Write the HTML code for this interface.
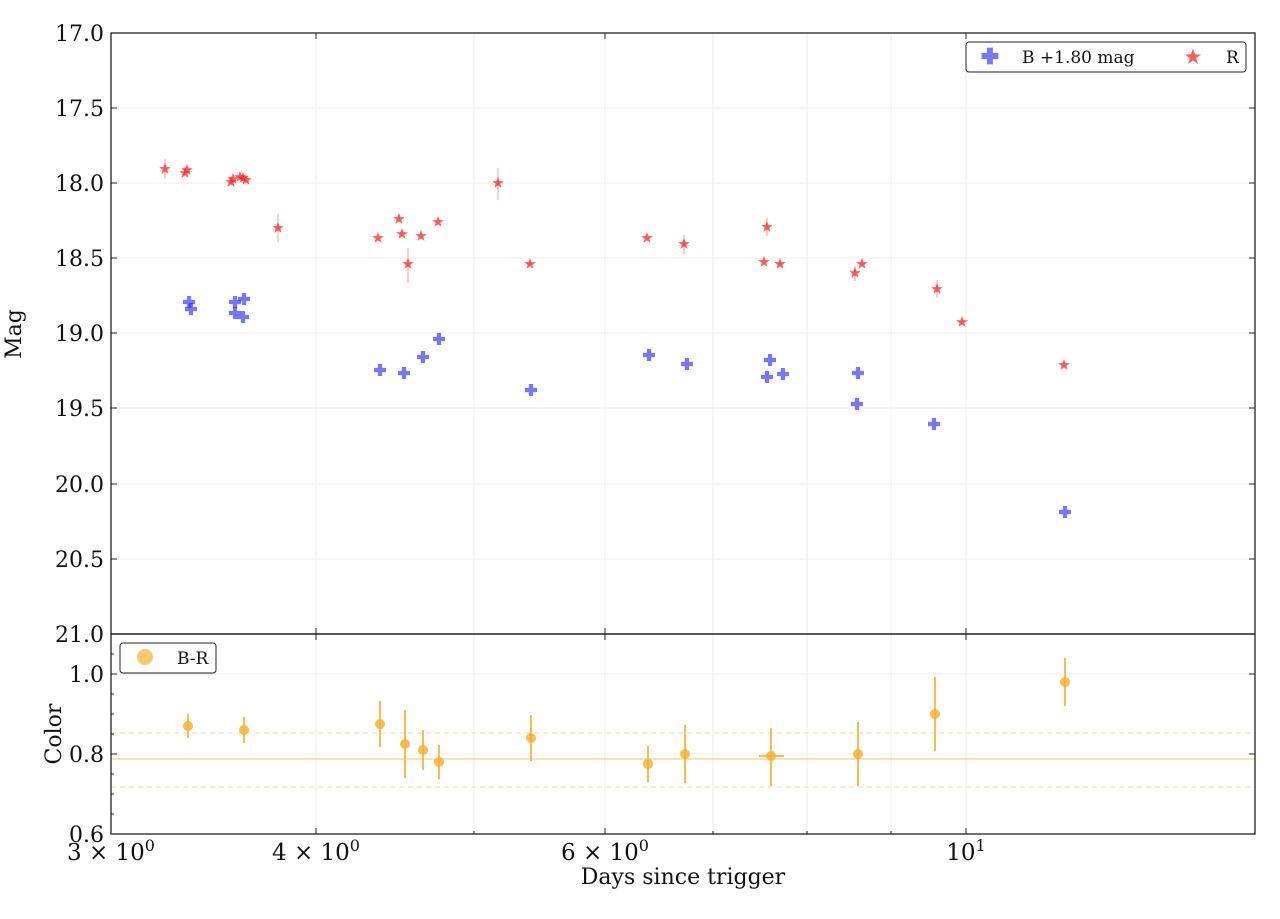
<!DOCTYPE html>
<html><head><meta charset="utf-8"><style>
body{margin:0;background:#fff;}
svg text{font-family:"DejaVu Serif","Liberation Serif",serif;fill:#111;}
</style></head><body>
<svg width="1280" height="914" xmlns="http://www.w3.org/2000/svg">
<g stroke="#ededed" stroke-width="1">
<line x1="316" y1="33" x2="316" y2="834"/><line x1="474" y1="33" x2="474" y2="834"/><line x1="605" y1="33" x2="605" y2="834"/>
<line x1="713" y1="33" x2="713" y2="834"/><line x1="807" y1="33" x2="807" y2="834"/><line x1="891" y1="33" x2="891" y2="834"/><line x1="966" y1="33" x2="966" y2="834"/>
<line x1="111" y1="108" x2="1255" y2="108"/><line x1="111" y1="183" x2="1255" y2="183"/><line x1="111" y1="258" x2="1255" y2="258"/><line x1="111" y1="333" x2="1255" y2="333"/><line x1="111" y1="408" x2="1255" y2="408"/><line x1="111" y1="484" x2="1255" y2="484"/><line x1="111" y1="559" x2="1255" y2="559"/>
<line x1="111" y1="674" x2="1255" y2="674"/><line x1="111" y1="754" x2="1255" y2="754"/>
</g>
<line x1="111" y1="759" x2="1255" y2="759" stroke="#f7c46a" stroke-width="1"/>
<line x1="111" y1="733" x2="1255" y2="733" stroke="#f7d9a0" stroke-width="1" stroke-dasharray="5,4"/>
<line x1="111" y1="787" x2="1255" y2="787" stroke="#f7d9a0" stroke-width="1" stroke-dasharray="5,4"/>
<rect x="111" y="33" width="1144" height="601" fill="none" stroke="#222" stroke-width="1.3"/>
<rect x="111" y="634" width="1144" height="200" fill="none" stroke="#222" stroke-width="1.3"/>
<g stroke="#222" stroke-width="1">
<line x1="111" y1="33" x2="117" y2="33"/><line x1="111" y1="108" x2="117" y2="108"/><line x1="111" y1="183" x2="117" y2="183"/><line x1="111" y1="258" x2="117" y2="258"/><line x1="111" y1="333" x2="117" y2="333"/><line x1="111" y1="408" x2="117" y2="408"/><line x1="111" y1="484" x2="117" y2="484"/><line x1="111" y1="559" x2="117" y2="559"/>
<line x1="1255" y1="108" x2="1249" y2="108"/><line x1="1255" y1="183" x2="1249" y2="183"/><line x1="1255" y1="258" x2="1249" y2="258"/><line x1="1255" y1="333" x2="1249" y2="333"/><line x1="1255" y1="408" x2="1249" y2="408"/><line x1="1255" y1="484" x2="1249" y2="484"/><line x1="1255" y1="559" x2="1249" y2="559"/>
<line x1="111" y1="674" x2="117" y2="674"/><line x1="111" y1="754" x2="117" y2="754"/>
<line x1="111" y1="654" x2="114" y2="654"/><line x1="111" y1="694" x2="114" y2="694"/><line x1="111" y1="714" x2="114" y2="714"/><line x1="111" y1="734" x2="114" y2="734"/><line x1="111" y1="774" x2="114" y2="774"/><line x1="111" y1="794" x2="114" y2="794"/><line x1="111" y1="814" x2="114" y2="814"/>
<line x1="1255" y1="674" x2="1249" y2="674"/><line x1="1255" y1="754" x2="1249" y2="754"/>
<line x1="316" y1="834" x2="316" y2="828"/><line x1="605" y1="834" x2="605" y2="828"/><line x1="966" y1="834" x2="966" y2="828"/>
<line x1="474" y1="834" x2="474" y2="831"/><line x1="713" y1="834" x2="713" y2="831"/><line x1="807" y1="834" x2="807" y2="831"/><line x1="891" y1="834" x2="891" y2="831"/>
<line x1="316" y1="634" x2="316" y2="628"/><line x1="605" y1="634" x2="605" y2="628"/><line x1="966" y1="634" x2="966" y2="628"/>
<line x1="316" y1="634" x2="316" y2="640"/><line x1="605" y1="634" x2="605" y2="640"/><line x1="966" y1="634" x2="966" y2="640"/>
<line x1="316" y1="33" x2="316" y2="39"/><line x1="605" y1="33" x2="605" y2="39"/><line x1="966" y1="33" x2="966" y2="39"/>
</g>
<g font-size="22" text-anchor="end">
<text x="104" y="41">17.0</text><text x="104" y="116">17.5</text><text x="104" y="191">18.0</text><text x="104" y="266">18.5</text><text x="104" y="341">19.0</text><text x="104" y="416">19.5</text><text x="104" y="492">20.0</text><text x="104" y="567">20.5</text><text x="104" y="642">21.0</text>
<text x="104" y="682">1.0</text><text x="104" y="762">0.8</text><text x="104" y="842">0.6</text>
</g>
<g font-size="23" text-anchor="middle">
<text x="111" y="860">3 × 10<tspan font-size="16" dy="-9">0</tspan></text>
<text x="316" y="860">4 × 10<tspan font-size="16" dy="-9">0</tspan></text>
<text x="605" y="860">6 × 10<tspan font-size="16" dy="-9">0</tspan></text>
<text x="966" y="860">10<tspan font-size="16" dy="-9">1</tspan></text>
<text x="683" y="884" font-size="22">Days since trigger</text>
</g>
<text font-size="22" text-anchor="middle" transform="translate(21,334) rotate(-90)">Mag</text>
<text font-size="22" text-anchor="middle" transform="translate(61,734) rotate(-90)">Color</text>
<defs>
<path id="st" d="M0,-6 L1.45,-1.9 5.8,-1.8 2.3,0.7 3.5,4.8 0,2.4 -3.5,4.8 -2.3,0.7 -5.8,-1.8 -1.45,-1.9Z" fill="#f22" fill-opacity="0.75"/>
<path id="pl" d="M-2.1,-6 H2.1 V-2.1 H6 V2.1 H2.1 V6 H-2.1 V2.1 H-6 V-2.1 H-2.1Z" fill="#22f" fill-opacity="0.62"/>
</defs>
<g stroke="#f55" stroke-opacity="0.6" stroke-width="1">
<line x1="165" y1="159" x2="165" y2="179"/><line x1="278" y1="214" x2="278" y2="242"/><line x1="408" y1="248" x2="408" y2="283"/><line x1="498" y1="168" x2="498" y2="200"/><line x1="684" y1="235" x2="684" y2="254"/><line x1="767" y1="218" x2="767" y2="236"/><line x1="855" y1="266" x2="855" y2="281"/><line x1="937" y1="280" x2="937" y2="298"/>
</g>
<g>
<use href="#st" x="165" y="169"/><use href="#st" x="185" y="173"/><use href="#st" x="187" y="170"/><use href="#st" x="231" y="182"/><use href="#st" x="233" y="179"/><use href="#st" x="240" y="177"/><use href="#st" x="243" y="178"/><use href="#st" x="246" y="180"/><use href="#st" x="278" y="228"/><use href="#st" x="378" y="238"/><use href="#st" x="399" y="219"/><use href="#st" x="402" y="234"/><use href="#st" x="408" y="264"/><use href="#st" x="421" y="236"/><use href="#st" x="438" y="222"/><use href="#st" x="498" y="183"/><use href="#st" x="530" y="264"/><use href="#st" x="647" y="238"/><use href="#st" x="684" y="244"/><use href="#st" x="767" y="227"/><use href="#st" x="764" y="262"/><use href="#st" x="780" y="264"/><use href="#st" x="855" y="273"/><use href="#st" x="862" y="264"/><use href="#st" x="937" y="289"/><use href="#st" x="962" y="322"/><use href="#st" x="1064" y="365"/>
</g>
<g>
<use href="#pl" x="189" y="302"/><use href="#pl" x="191" y="309"/><use href="#pl" x="235" y="302"/><use href="#pl" x="235" y="313"/><use href="#pl" x="244" y="299"/><use href="#pl" x="243" y="317"/><use href="#pl" x="380" y="370"/><use href="#pl" x="404" y="373"/><use href="#pl" x="423" y="357"/><use href="#pl" x="439" y="339"/><use href="#pl" x="531" y="390"/><use href="#pl" x="649" y="355"/><use href="#pl" x="687" y="364"/><use href="#pl" x="767" y="377"/><use href="#pl" x="770" y="360"/><use href="#pl" x="783" y="374"/><use href="#pl" x="857" y="404"/><use href="#pl" x="858" y="373"/><use href="#pl" x="934" y="424"/><use href="#pl" x="1065" y="512"/>
</g>
<g stroke="#f8b030" stroke-opacity="0.85" stroke-width="2">
<line x1="188" y1="714" x2="188" y2="738"/><line x1="244" y1="717" x2="244" y2="743"/><line x1="380" y1="701" x2="380" y2="747"/><line x1="405" y1="710" x2="405" y2="778"/><line x1="423" y1="730" x2="423" y2="770"/><line x1="439" y1="745" x2="439" y2="779"/><line x1="531" y1="715" x2="531" y2="761"/><line x1="648" y1="746" x2="648" y2="782"/><line x1="685" y1="725" x2="685" y2="783"/><line x1="771" y1="728" x2="771" y2="786"/><line x1="759" y1="756" x2="784" y2="756"/><line x1="858" y1="722" x2="858" y2="786"/><line x1="935" y1="677" x2="935" y2="751"/><line x1="1065" y1="658" x2="1065" y2="706"/>
</g>
<g fill="#f8b030" fill-opacity="0.85">
<circle cx="188" cy="726" r="5"/><circle cx="244" cy="730" r="5"/><circle cx="380" cy="724" r="5"/><circle cx="405" cy="744" r="5"/><circle cx="423" cy="750" r="5"/><circle cx="439" cy="762" r="5"/><circle cx="531" cy="738" r="5"/><circle cx="648" cy="764" r="5"/><circle cx="685" cy="754" r="5"/><circle cx="771" cy="756" r="5"/><circle cx="858" cy="754" r="5"/><circle cx="935" cy="714" r="5"/><circle cx="1065" cy="682" r="5"/>
</g>
<rect x="966" y="42" width="280" height="30" rx="3" fill="#fff" stroke="#222" stroke-width="1"/>
<use href="#pl" transform="translate(990,56) scale(1.4)"/>
<text x="1022" y="63" font-size="17">B +1.80 mag</text>
<use href="#st" transform="translate(1193,57) scale(1.4)"/>
<text x="1226" y="63" font-size="17">R</text>
<rect x="120" y="643" width="96" height="30" rx="3" fill="#fff" stroke="#222" stroke-width="1"/>
<circle cx="145" cy="657" r="8" fill="#f8b030" fill-opacity="0.7"/>
<text x="177" y="664" font-size="17">B-R</text>
</svg>
</body></html>
